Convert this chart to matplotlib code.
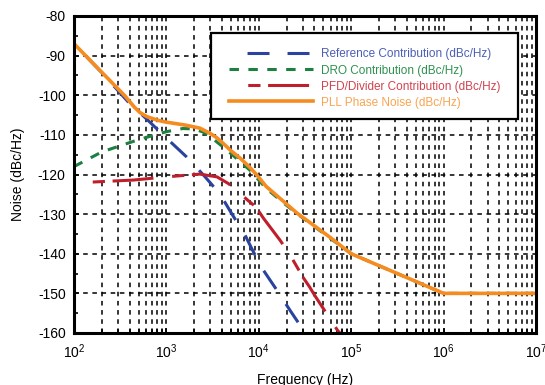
import matplotlib
matplotlib.use("Agg")
import matplotlib.pyplot as plt
from matplotlib.patches import Rectangle

plt.rcParams['font.family'] = ['Liberation Sans', 'DejaVu Sans']
plt.rcParams['mathtext.fontset'] = 'custom'
plt.rcParams['mathtext.rm'] = 'Liberation Sans'
plt.rcParams['mathtext.it'] = 'Liberation Sans:italic'
plt.rcParams['lines.scale_dashes'] = False
plt.rcParams['axes.unicode_minus'] = False

# ---- data ----
ref_f = [100, 200, 380, 630, 1000, 1660, 2580, 3790, 5130, 7100, 8600, 10800, 15800, 21800, 29400, 40000]
ref_v = [-87.0, -94.3, -101.5, -106.3, -110.8, -115.6, -120.4, -124.9, -130.0, -135.3, -139.2, -143.6, -149.3, -154.3, -158.8, -164.0]

dro_f = [100, 200, 500, 1000, 1500, 2000, 2500, 3000, 4500, 8000, 12000, 20000, 30000, 58600, 100000, 1000000, 10000000]
dro_v = [-118.0, -114.3, -111.2, -109.2, -108.4, -108.5, -109.3, -110.5, -113.8, -118.9, -123.5, -127.8, -131.0, -136.0, -140.0, -150.0, -150.0]

pfd_f = [100, 160, 440, 1000, 2300, 3530, 4700, 7600, 9300, 11200, 17000, 21800, 30000, 35500, 40000, 71000, 90000]
pfd_v = [-122.0, -121.9, -121.4, -120.6, -119.9, -120.6, -122.3, -126.5, -128.2, -131.0, -136.6, -140.3, -145.9, -148.4, -150.4, -159.3, -162.0]

pll_f = [100, 200, 357, 450, 520, 616, 800, 1000, 1300, 1660, 2300, 2960, 3500, 4100, 5000, 6300, 8000,
         9500, 12000, 25800, 58600, 100000, 1000000, 10000000]
pll_v = [-87.0, -94.2, -100.2, -103.0, -104.4, -105.4, -106.3, -106.8, -107.2, -107.6, -108.3, -109.6, -110.7,
         -112.1, -114.0, -115.9, -118.2, -120.1, -123.0, -129.7, -135.8, -140.0, -150.0, -150.0]

labels = ["Reference Contribution (dBc/Hz)", "DRO Contribution (dBc/Hz)",
          "PFD/Divider Contribution (dBc/Hz)", "PLL Phase Noise (dBc/Hz)"]
yticks = [-80, -90, -100, -110, -120, -130, -140, -150, -160]

# ---- styles ----
c_ref, c_dro, c_pfd, c_pll = '#2a42a0', '#1b8040', '#bf1f2b', '#f68b1f'
t_ref, t_dro, t_pfd, t_pll = '#4a5fb5', '#2f9150', '#d0424f', '#f9a451'

W, H = 545, 385
fig = plt.figure(figsize=(W / 100, H / 100), dpi=100)
L, R, T, B = 74, 536, 16, 333
ax = fig.add_axes([L / W, 1 - B / H, (R - L) / W, (B - T) / H])

ax.set_xscale('log')
ax.set_xlim(1e2, 1e7)
ax.set_ylim(-160, -80)
ax.set_yticks(yticks)
ax.set_yticks(range(-155, -80, 10), minor=True)

gstyle = dict(color='black', linestyle=(0, (3.3, 3.3)), linewidth=1.1)
ax.grid(True, which='major', axis='both', **gstyle)
ax.grid(True, which='minor', axis='x', **gstyle)
ax.set_axisbelow(True)

lw = 2.2
ax.plot(ref_f, ref_v, color=c_ref, lw=lw, linestyle=(15.8, (15.8, 13.0)), label=labels[0], zorder=3)
ax.plot(dro_f, dro_v, color=c_dro, lw=lw, linestyle=(0, (6.8, 6.8)), label=labels[1], zorder=3)
ax.plot(pfd_f, pfd_v, color=c_pfd, lw=lw, linestyle=(29.5, (29.5, 13.5, 8.8, 5.5)), label=labels[2], zorder=3)
ax.plot(pll_f, pll_v, color=c_pll, lw=2.6, linestyle='-', label=labels[3], zorder=4)

for s in ax.spines.values():
    s.set_linewidth(2.2)
    s.set_zorder(7)

ax.tick_params(axis='both', which='both', direction='in', labelsize=10, width=1.2)
ax.tick_params(axis='both', which='major', length=3.5)
ax.tick_params(axis='both', which='minor', length=3.0)
ax.tick_params(axis='y', pad=6)
ax.tick_params(axis='x', pad=7)

ax.set_xlabel('Frequency (Hz)', fontsize=10)
ax.set_ylabel('Noise (dBc/Hz)', fontsize=10)
ax.xaxis.set_label_coords(0.5, -(373 - B) / (B - T))
ax.yaxis.set_label_coords(-(L - 25) / (R - L), 0.5)

# legend box
box = Rectangle((211 / W, 1 - 119 / H), (518 - 211) / W, (119 - 33) / H,
                transform=fig.transFigure, facecolor='white', edgecolor='black',
                linewidth=1.6, zorder=5, clip_on=False)
ax.add_patch(box)

fs = 8.5
leg = ax.legend(loc='upper left', bbox_to_anchor=(229 / W, 1 - 48.5 / H),
                bbox_transform=fig.transFigure, frameon=False, fontsize=fs,
                handlelength=60.5 / fs, handletextpad=5.8 / fs, borderpad=0,
                borderaxespad=0, labelspacing=0.34)
leg.set_zorder(6)
for txt, col in zip(leg.get_texts(), [t_ref, t_dro, t_pfd, t_pll]):
    txt.set_color(col)

fig.savefig('out.png', dpi=100)
